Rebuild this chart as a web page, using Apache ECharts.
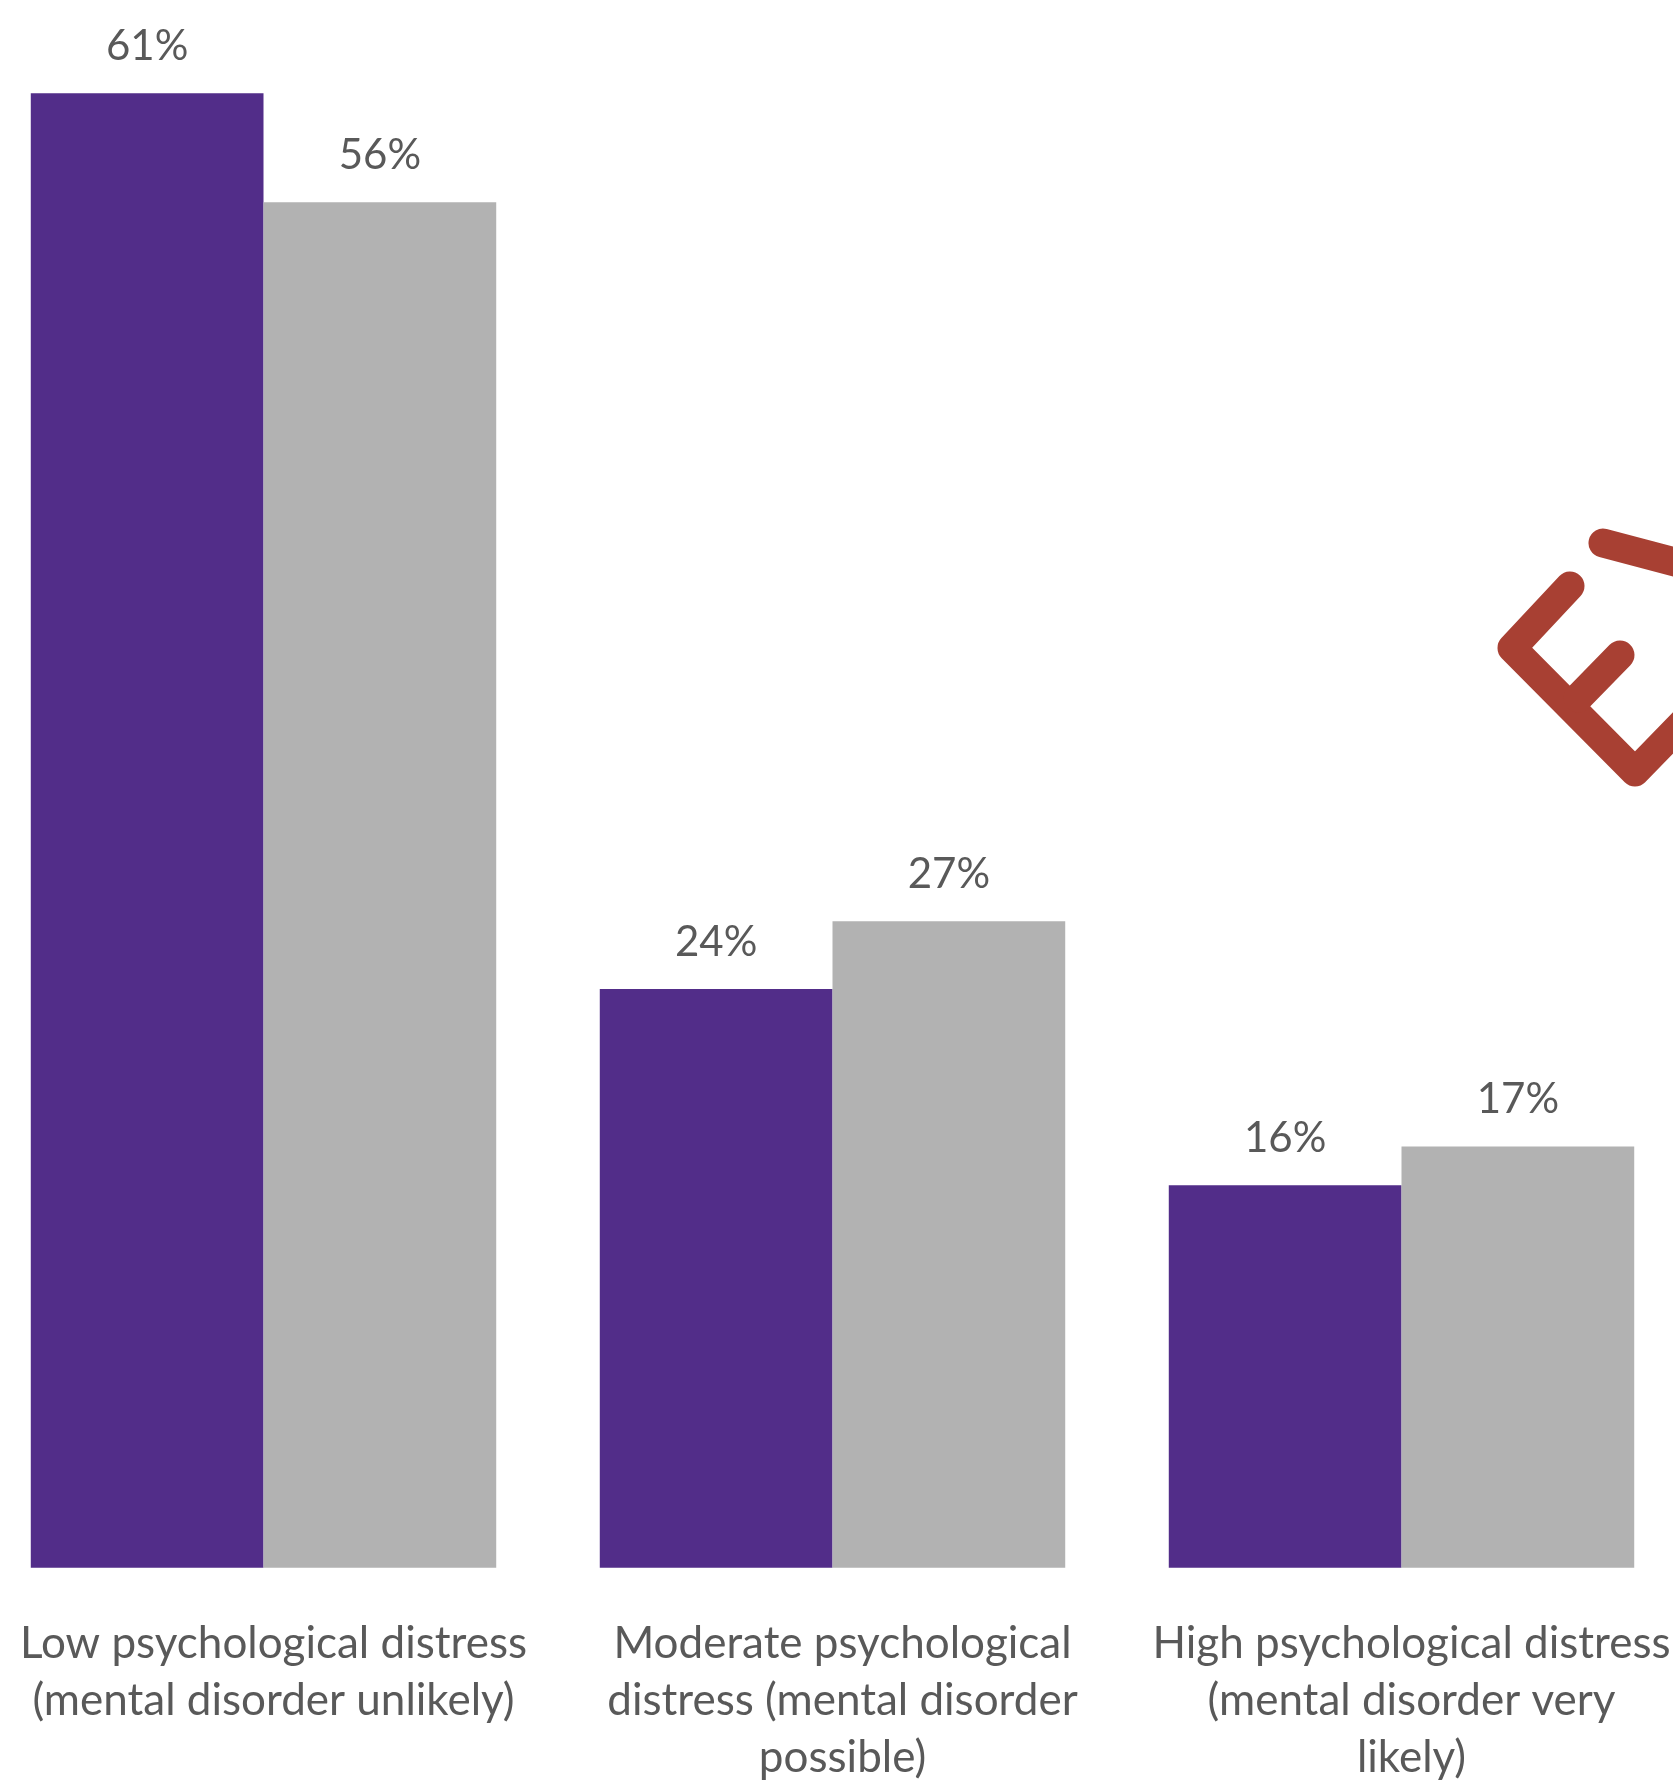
<!DOCTYPE html>
<html>
<head>
<meta charset="utf-8">
<script src="https://cdn.jsdelivr.net/npm/echarts@6/dist/echarts.min.js"></script>
<style>
  html, body { margin: 0; padding: 0; background: #ffffff; overflow: hidden; width: 1673px; height: 1781px; }
  #chart { position: absolute; left: -21px; top: 0; width: 1728px; height: 1800px; }
</style>
</head>
<body>
<div id="chart"></div>
<script>
const categories = [
  "Low psychological distress\n(mental disorder unlikely)",
  "Moderate psychological\ndistress (mental disorder\npossible)",
  "High psychological distress\n(mental disorder very\nlikely)"
];
const seriesPurple = [60.9, 23.9, 15.8];
const seriesGray = [56.4, 26.7, 17.4];

const FONT = "Lato";
const TEXT_COLOR = "#595959";
const OFFSET_X = 21; // chart container is shifted left by this many px
const chart = echarts.init(document.getElementById("chart"), null, { renderer: "canvas" });

const labelCfg = {
  show: true,
  position: "top",
  distance: 19,
  fontFamily: FONT,
  fontSize: 42,
  lineHeight: 56,
  color: TEXT_COLOR,
  formatter: p => Math.round(p.value) + "%"
};

const logoColor = "#A84033";
const logoStyle = { stroke: logoColor, lineWidth: 29, lineCap: "round", lineJoin: "round", fill: null };
const sx = x => x + OFFSET_X;

chart.setOption({
  animation: false,
  backgroundColor: "#ffffff",
  grid: { left: 0, width: 1707, top: 18.3, height: 1549.4, containLabel: false },
  xAxis: {
    type: "category",
    data: categories,
    axisLine: { show: false },
    axisTick: { show: false },
    axisLabel: {
      interval: 0,
      margin: 47,
      fontFamily: FONT,
      fontSize: 44,
      lineHeight: 57.4,
      color: TEXT_COLOR,
      align: "center",
      padding: [0, 0, 0, 20]
    }
  },
  yAxis: {
    type: "value",
    min: 0,
    max: 64,
    show: false,
    splitLine: { show: false }
  },
  graphic: [
    { type: "polyline", z: 0, shape: { points: [[sx(1603), 543], [sx(1705), 570]] }, style: logoStyle },
    { type: "polyline", z: 0, shape: { points: [[sx(1570), 586], [sx(1512), 648], [sx(1635), 772], [sx(1705), 700]] }, style: logoStyle },
    { type: "polyline", z: 0, shape: { points: [[sx(1620), 655], [sx(1578), 698]] }, style: logoStyle }
  ],
  series: [
    {
      type: "bar",
      data: seriesPurple,
      itemStyle: { color: "#522D89" },
      barGap: "0%",
      barCategoryGap: "18.2%",
      label: labelCfg
    },
    {
      type: "bar",
      data: seriesGray,
      itemStyle: { color: "#B2B2B2" },
      barGap: "0%",
      barCategoryGap: "18.2%",
      label: labelCfg
    }
  ]
});
</script>
</body>
</html>
